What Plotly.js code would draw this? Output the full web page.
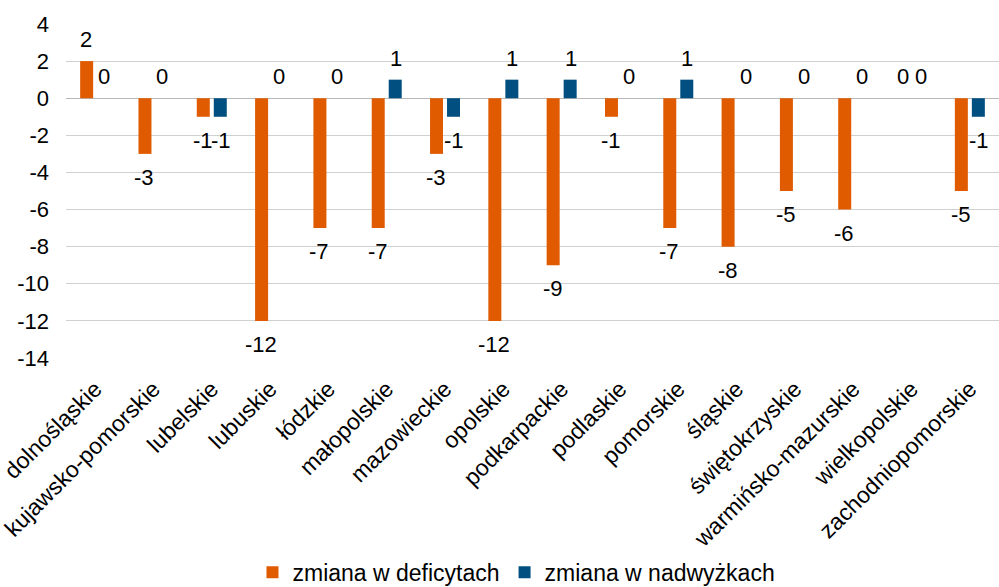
<!DOCTYPE html>
<html><head><meta charset="utf-8">
<script src="https://cdn.plot.ly/plotly-3.0.1.min.js"></script>
<style>body{margin:0;background:#fff}#c{width:999px;height:587px}</style>
</head><body><div id="c"></div>
<script>
const categories = ["dolnośląskie","kujawsko-pomorskie","lubelskie","lubuskie","łódzkie","małopolskie","mazowieckie","opolskie","podkarpackie","podlaskie","pomorskie","śląskie","świętokrzyskie","warmińsko-mazurskie","wielkopolskie","zachodniopomorskie"];
const deficyty = [2,-3,-1,-12,-7,-7,-3,-12,-9,-1,-7,-8,-5,-6,0,-5];
const nadwyzki = [0,0,-1,0,0,1,-1,1,1,0,1,0,0,0,0,-1];
const seriesNames = ["zmiana w deficytach","zmiana w nadwyżkach"];
const yTicks = [4,2,0,-2,-4,-6,-8,-10,-12,-14];

const font = {family:"Liberation Sans, Arial, sans-serif", color:"#000"};
const F = s => Object.assign({size:s}, font);
function trace(vals, name, color){
  return {type:"bar", x:categories, y:vals, name:name, marker:{color:color}};
}
const data = [trace(deficyty, seriesNames[0], "#E05A00"), trace(nadwyzki, seriesNames[1], "#004F80")];

// data labels (outside end) built from the series arrays
const annotations = [];
[[deficyty,-9],[nadwyzki,9]].forEach(([vals,dx]) => {
  vals.forEach((v,i) => {
    annotations.push({x:categories[i], y:v, xref:"x", yref:"y", text:String(v), showarrow:false,
      xshift:dx, yanchor: v>=0 ? "bottom" : "top", yshift: v>=0 ? 8 : -10, font:F(22), borderpad:0});
  });
});

const layout = {
  width:999, height:587, margin:{l:66,r:0,t:24,b:229, autoexpand:false},
  paper_bgcolor:"#fff", plot_bgcolor:"#fff",
  font:F(23),
  barmode:"group", bargap:0.417, bargroupgap:0.235,
  xaxis:{tickangle:-45, tickfont:F(23), showgrid:false, zeroline:false, showline:false, ticks:"", ticklabelstandoff:12, automargin:false},
  yaxis:{range:[-14,4], tickvals:yTicks, ticktext:yTicks.map(String), tickfont:F(22),
    showgrid:true, gridcolor:"#d0d0d0", gridwidth:1, zeroline:true, zerolinecolor:"#b8b8b8", zerolinewidth:1, ticks:"", ticklabelstandoff:16, automargin:false},
  annotations:annotations,
  showlegend:true,
  legend:{orientation:"h", x:0.517, xanchor:"center", xref:"container", yref:"container", y:0.025, yanchor:"middle", font:F(23), itemwidth:30, traceorder:"normal"}
};
Plotly.newPlot("c", data, layout, {displayModeBar:false, staticPlot:true});
</script></body></html>
